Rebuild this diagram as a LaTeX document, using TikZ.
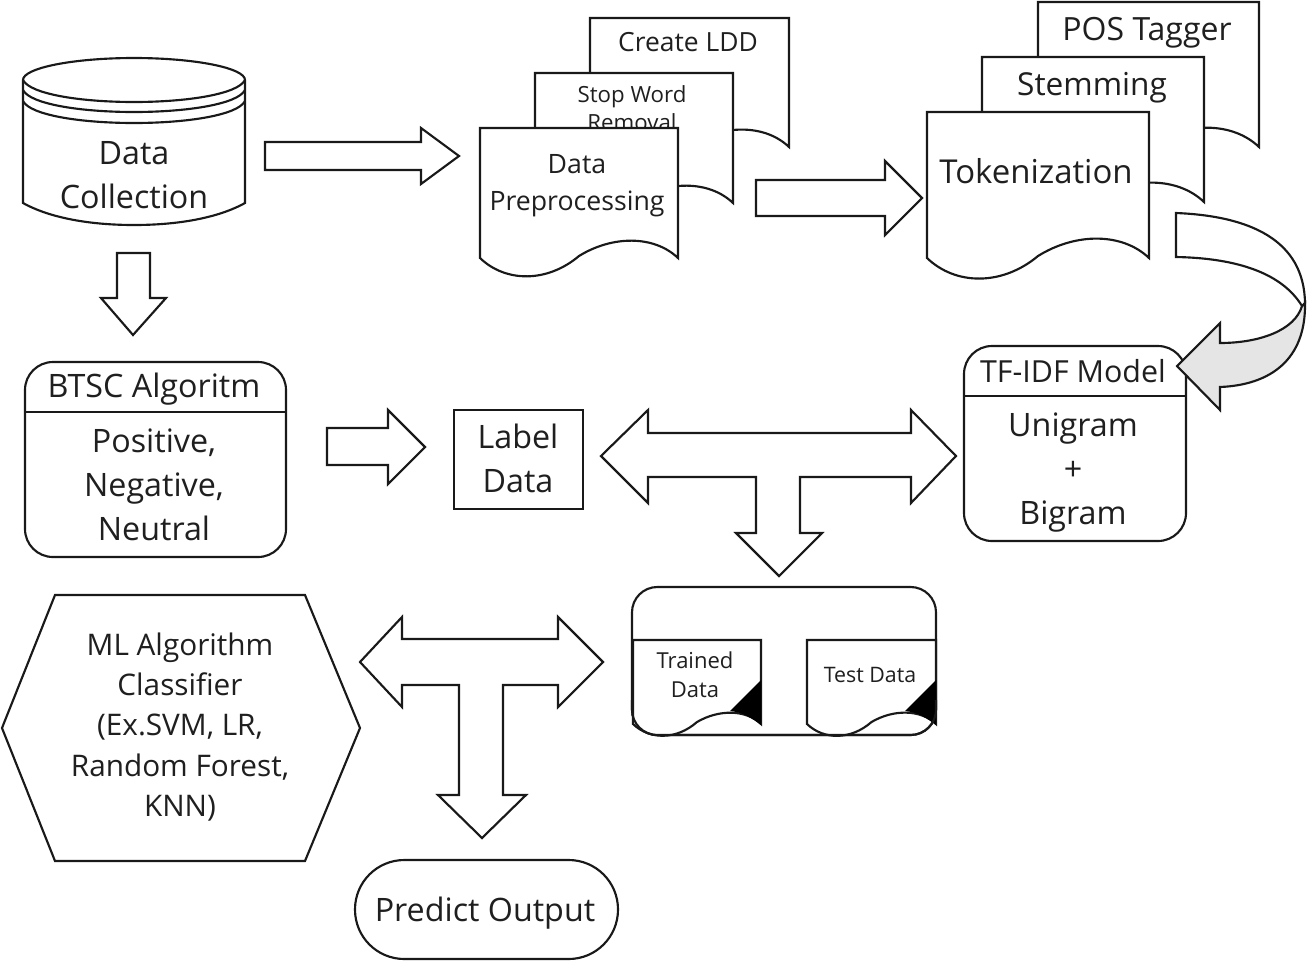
\documentclass[tikz,border=0pt]{standalone}
\usepackage{fontspec}
\setmainfont{Open Sans}
\newcommand{\fs}[2]{\fontsize{#1}{#2}\selectfont}
\tikzset{
  outl/.style={draw=black!90,line width=1.6pt,line join=miter,fill=white},
  thick box/.style={outl,rounded corners=21pt},
  lbl/.style={text=black!88,align=center,inner sep=0pt,anchor=center},
  big/.style={lbl,font=\fs{24.2}{33}}
}
% doc shape: x0,y0,x1,yb
\newcommand{\docshape}[4]{%
  \pgfmathsetmacro{\W}{#3-#1}%
  \pgfmathsetmacro{\Ma}{#3-.12*\W}\pgfmathsetmacro{\Mb}{#3-.33*\W}\pgfmathsetmacro{\Mc}{#3-.5*\W}%
  \pgfmathsetmacro{\Md}{#3-.66*\W}\pgfmathsetmacro{\Me}{#3-.87*\W}%
  \pgfmathsetmacro{\Au}{.115*\W}\pgfmathsetmacro{\Ad}{.125*\W}%
  \draw[outl] (#1,#2) -- (#3,#2) -- (#3,#4)
   .. controls (\Ma,#4-\Au) and (\Mb,#4-\Au) .. (\Mc,#4-2)
   .. controls (\Md,#4+\Ad) and (\Me,#4+\Ad) .. (#1,#4) -- cycle;}
\begin{document}
\begin{tikzpicture}[x=.75pt,y=-.75pt]
\useasboundingbox (0,0) rectangle (1307,961);
% cylinder
\draw[outl] (23,80) -- (23,203) .. controls (50,218) and (90,225) .. (134,225) .. controls (178,225) and (218,218) .. (245,203) -- (245,80)
  .. controls (245,68) and (195,58) .. (134,58) .. controls (73,58) and (23,68) .. (23,80) -- cycle;
\draw[outl,fill=none] (23,80) .. controls (30,94) and (80,102) .. (134,102) .. controls (188,102) and (238,94) .. (245,80);
\draw[outl,fill=none] (23,90) .. controls (30,104) and (80,112) .. (134,112) .. controls (188,112) and (238,104) .. (245,90);
\draw[outl,fill=none] (23,101) .. controls (30,115) and (80,123) .. (134,123) .. controls (188,123) and (238,115) .. (245,101);
\node[big] (dc) at (134,175) {Data\\Collection};
% block arrows
\draw[outl] (265,142) -- (421,142) -- (421,128) -- (459,156) -- (421,184) -- (421,170) -- (265,170) -- cycle;
\draw[outl] (756,180) -- (885,180) -- (885,161) -- (922,198) -- (885,235) -- (885,216) -- (756,216) -- cycle;
\draw[outl] (117,253) -- (150,253) -- (150,298) -- (166,298) -- (133,335) -- (101,298) -- (117,298) -- cycle;
\draw[outl] (327,428) -- (388,428) -- (388,410) -- (425,447) -- (388,484) -- (388,465) -- (327,465) -- cycle;
\draw[outl] (601,456) -- (648,410) -- (648,433) -- (911,433) -- (911,410) -- (956,456) -- (911,503) -- (911,477) -- (800,477) -- (800,533) -- (822,533) -- (779,576) -- (736,533) -- (756,533) -- (756,477) -- (648,477) -- (648,503) -- cycle;
\draw[outl] (360,662) -- (402,617) -- (402,639) -- (558,639) -- (558,617) -- (603,662) -- (558,707) -- (558,685) -- (503,685) -- (503,795) -- (526,795) -- (482,838) -- (438,795) -- (459,795) -- (459,685) -- (402,685) -- (402,707) -- cycle;
% document stacks
\docshape{590}{18}{789}{147}
\node[lbl,font=\fs{19.8}{24}] (ldd) at (688,42) {Create LDD};
\docshape{535}{73}{733}{203}
\node[lbl,font=\fs{16.7}{21}] (swr) at (632,108) {Stop Word\\Removal};
\docshape{480}{128}{678}{258}
\node[lbl,font=\fs{20}{28}] (dp) at (577,186) {Data\\Preprocessing};
\docshape{1038}{2}{1259}{147}
\node[lbl,font=\fs{24}{28}] (pos) at (1147,33) {POS Tagger};
\docshape{982}{57}{1204}{202}
\node[lbl,font=\fs{23.7}{28}] (stem) at (1092,88) {Stemming};
\docshape{927}{112}{1149}{258}
\node[lbl,font=\fs{24.7}{28}] (tok) at (1036,171) {Tokenization};
% BTSC
\draw[thick box] (25,362) rectangle (286,557);
\draw[outl] (25,412) -- (286,412);
\node[big] (btsc) at (154,389) {BTSC Algoritm};
\node[big] (pnn) at (154,485) {Positive,\\Negative,\\Neutral};
% Label
\draw[outl] (454,410) rectangle (583,509);
\node[big] (ld) at (518,458) {Label\\Data};
% TF-IDF
\draw[thick box] (964,346) rectangle (1186,541);
\draw[outl] (964,396) -- (1186,396);
\node[lbl,font=\fs{22.8}{30}] (tf) at (1073,371) {TF-IDF Model};
\node[big] (ub) at (1073,473) {Unigram\\+\\Bigram};
% curved arrow
\draw[outl] (1176,213) .. controls (1250,216) and (1304,240) .. (1305,303) -- (1302,306) .. controls (1280,270) and (1230,258) .. (1176,257) -- cycle;
\draw[outl,fill=black!10] (1302,306) .. controls (1295,330) and (1260,343) .. (1220,343) -- (1220,323) -- (1177,366) -- (1220,410) -- (1220,387) .. controls (1270,385) and (1306,360) .. (1305,303) -- cycle;
% container
\draw[outl,rounded corners=19pt] (632,735) rectangle (936,587);
\docshape{633}{640}{761}{724}
\docshape{807}{640}{936}{724}
\fill[black] (761,680) -- (730,711) .. controls (742,712) and (752,718) .. (761,725) -- cycle;
\fill[black] (936,680) -- (905,711) .. controls (917,712) and (927,718) .. (936,725) -- cycle;
\draw[outl,fill=none,rounded corners=19pt] (632,700) -- (632,735) -- (936,735) -- (936,700);
\node[lbl,font=\fs{16.5}{22}] (tr) at (695,675) {Trained\\Data};
\node[lbl,font=\fs{16}{22}] (te) at (870,675) {Test Data};
% hexagon
\draw[outl] (2,728) -- (55,595) -- (305,595) -- (360,728) -- (305,861) -- (55,861) -- cycle;
\node[lbl,font=\fs{22.3}{30.2}] (ml) at (180,727) {ML Algorithm\\Classifier\\(Ex.SVM, LR,\\Random Forest,\\KNN)};
% predict
\draw[outl,rounded corners=37pt] (355,860) rectangle (618,959);
\node[big] (po) at (485,913) {Predict Output};
\end{tikzpicture}
\end{document}
